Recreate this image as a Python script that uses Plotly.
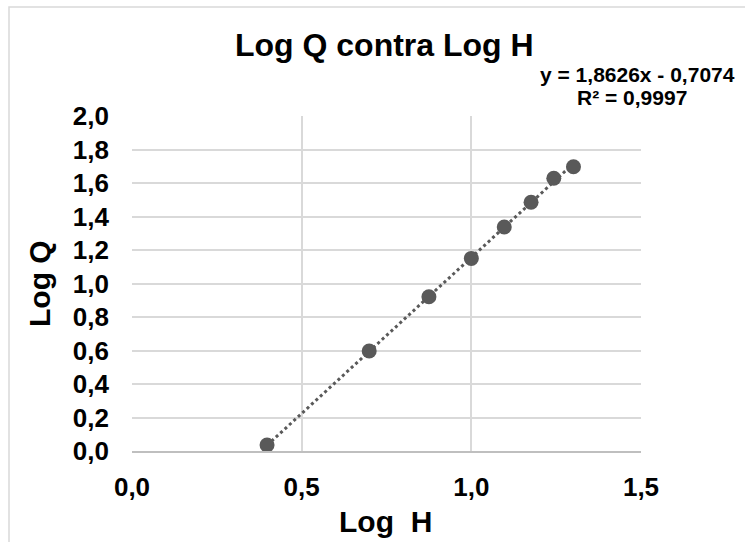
import plotly.graph_objects as go

log_h = [0.398, 0.699, 0.875, 1.000, 1.097, 1.176, 1.243, 1.301]
log_q = [0.036, 0.597, 0.921, 1.150, 1.337, 1.485, 1.628, 1.697]
trend_slope = 1.8626
trend_intercept = -0.7074
x_ticks = [0.0, 0.5, 1.0, 1.5]
y_ticks = [0.0, 0.2, 0.4, 0.6, 0.8, 1.0, 1.2, 1.4, 1.6, 1.8, 2.0]

FONT = "Liberation Sans, Arial, sans-serif"
GRAY = "#595959"

tx = [min(log_h), max(log_h)]
ty = [trend_slope * v + trend_intercept for v in tx]

fig = go.Figure()
fig.add_trace(go.Scatter(x=tx, y=ty, mode="lines",
                         line=dict(color=GRAY, width=3, dash="dot"),
                         hoverinfo="skip", showlegend=False))
fig.add_trace(go.Scatter(x=log_h, y=log_q, mode="markers",
                         marker=dict(color=GRAY, size=15),
                         showlegend=False))

W, H = 745, 542
L, R, T, B = 132, 104, 116, 91
pw, ph = W - L - R, H - T - B

def px(xp):
    return (xp - L) / pw

def py(yp):
    return (H - B - yp) / ph

fig.update_layout(
    width=W, height=H,
    margin=dict(l=L, r=R, t=T, b=B),
    paper_bgcolor="white", plot_bgcolor="white",
    separators=", ",
    font=dict(family=FONT, color="black"),
    xaxis=dict(range=[0, 1.5], tickvals=x_ticks, tickformat=".1f",
               showgrid=True, gridcolor="#d9d9d9", gridwidth=1.5,
               zeroline=False, showline=True, linecolor="#bfbfbf", linewidth=1.5,
               tickfont=dict(size=26, family=FONT, weight="bold"),
               ticklabelstandoff=12, fixedrange=True),
    yaxis=dict(range=[0, 2.0], tickvals=y_ticks, tickformat=".1f",
               showgrid=True, gridcolor="#d9d9d9", gridwidth=1.5,
               zeroline=False, showline=False,
               tickfont=dict(size=26, family=FONT, weight="bold"),
               ticklabelstandoff=22, fixedrange=True),
    shapes=[dict(type="rect", xref="paper", yref="paper",
                 x0=px(9), x1=px(800), y0=py(600), y1=py(7),
                 line=dict(color="#d9d9d9", width=1.5), layer="below")],
    annotations=[
        dict(text="<b>Log Q contra Log H</b>", xref="paper", yref="paper",
             x=px(384), y=py(45), showarrow=False, xanchor="center", yanchor="middle",
             font=dict(size=32, family=FONT)),
        dict(text="<b>y = 1,8626x - 0,7074</b>", xref="paper", yref="paper",
             x=px(737), y=py(75), showarrow=False, xanchor="right", yanchor="middle",
             font=dict(size=21, family=FONT)),
        dict(text="<b>R² = 0,9997</b>", xref="paper", yref="paper",
             x=px(689), y=py(98), showarrow=False, xanchor="right", yanchor="middle",
             font=dict(size=21, family=FONT)),
        dict(text="<b>Log Q</b>", xref="paper", yref="paper",
             x=px(39), y=py(284), showarrow=False, textangle=-90,
             xanchor="center", yanchor="middle",
             font=dict(size=30, family=FONT)),
        dict(text="<b>Log  H</b>", xref="paper", yref="paper",
             x=px(385), y=py(521), showarrow=False,
             xanchor="center", yanchor="middle",
             font=dict(size=30, family=FONT)),
    ],
)

fig.write_html("out.html", config={"displayModeBar": False},
               post_script="document.body.style.margin='0';")
